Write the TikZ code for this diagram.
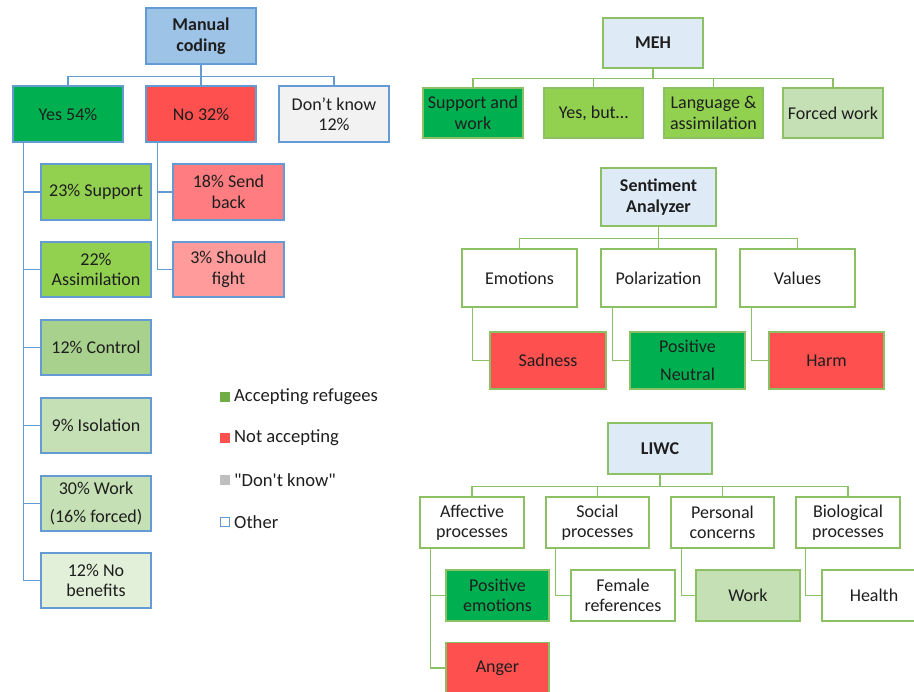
\documentclass[tikz,border=0pt]{standalone}
\usepackage{fontspec}
\setmainfont{Carlito}[Ligatures=TeXOff]
\definecolor{lblue}{RGB}{100,155,212}
\definecolor{lgreen}{RGB}{140,192,100}
\definecolor{rootblue}{RGB}{157,195,230}
\definecolor{paleblue}{RGB}{222,235,247}
\definecolor{dgreen}{RGB}{0,176,80}
\definecolor{mgreen}{RGB}{146,208,80}
\definecolor{cgreen}{RGB}{169,209,142}
\definecolor{sgreen}{RGB}{197,224,180}
\definecolor{vgreen}{RGB}{226,240,217}
\definecolor{red1}{RGB}{255,80,80}
\definecolor{red2}{RGB}{255,124,128}
\definecolor{red3}{RGB}{255,155,155}
\definecolor{lgray}{RGB}{242,242,242}
\definecolor{txt}{RGB}{30,30,30}
\definecolor{leggreen}{RGB}{112,173,71}
\definecolor{leggray}{RGB}{191,191,191}
\tikzset{
  bx/.style={draw, line width=1.6pt, inner sep=0pt, align=center, text=txt,
    font=\fontsize{18}{20.5}\selectfont},
  lb/.style={bx, draw=lblue},
  rb/.style={bx, draw=lgreen},
  lcon/.style={draw=lblue, line width=1.4pt},
  rcon/.style={draw=lgreen, line width=1.4pt},
  legsq/.style={minimum size=10pt, inner sep=0pt},
  legtx/.style={anchor=west, inner sep=0pt, text=txt, font=\fontsize{18.6}{21}\selectfont}
}
\begin{document}
\begin{tikzpicture}[x=1pt,y=-1pt]
\useasboundingbox (0,0) rectangle (914,692);
\clip (0,0) rectangle (914,692);
% ---------- Manual coding tree ----------
\node[lb, fill=rootblue, minimum width=110pt, minimum height=56pt] (man) at (201,36) {\textbf{Manual}\\\textbf{coding}};
\node[lb, fill=dgreen, minimum width=110pt, minimum height=56pt] (yes) at (68,114) {Yes 54\%};
\node[lb, fill=red1, minimum width=110pt, minimum height=56pt] (no) at (201,114) {No 32\%};
\node[lb, fill=lgray, minimum width=110pt, minimum height=56pt] (dk) at (334,114) {Don’t know\\12\%};
\node[lb, fill=mgreen, minimum width=110pt, minimum height=56pt] (sup) at (96,192) {23\% Support};
\node[lb, fill=mgreen, minimum width=110pt, minimum height=55pt] (ass) at (96,269.5) {22\%\\Assimilation};
\node[lb, fill=cgreen, minimum width=110pt, minimum height=55pt] (ctl) at (96,347.5) {12\% Control};
\node[lb, fill=sgreen, minimum width=110pt, minimum height=55pt] (iso) at (96,425.5) {9\% Isolation};
\node[lb, fill=sgreen, minimum width=110pt, minimum height=55pt] (wrk) at (96,503.5) {30\% Work\\[8pt](16\% forced)};
\node[lb, fill=vgreen, minimum width=110pt, minimum height=55pt] (nob) at (96,580.5) {12\% No\\benefits};
\node[lb, fill=red2, minimum width=111pt, minimum height=56pt] (snd) at (228.5,192) {18\% Send\\back};
\node[lb, fill=red3, minimum width=111pt, minimum height=55pt] (fgt) at (228.5,269.5) {3\% Should\\fight};
\draw[lcon] (man.south) -- ++(0,12) coordinate (mbar);
\draw[lcon] (mbar) -| (yes.north);
\draw[lcon] (mbar) -| (no.north);
\draw[lcon] (mbar) -| (dk.north);
\foreach \c in {sup,ass,ctl,iso,wrk,nob}
  \draw[lcon] ([xshift=11pt]yes.south west) |- (\c.west);
\foreach \c in {snd,fgt}
  \draw[lcon] ([xshift=12pt]no.south west) |- (\c.west);
% ---------- Legend ----------
\node[legsq, fill=leggreen] (l1) at (225,397) {};
\node[legsq, fill=red1] (l2) at (225,438) {};
\node[legsq, fill=leggray] (l3) at (225,480) {};
\node[legsq, draw=lblue, line width=1.2pt, fill=white, minimum size=9pt] (l4) at (225,522) {};
\node[legtx] (t1) at (234,397) {Accepting refugees};
\node[legtx] (t2) at (234,438) {Not accepting};
\node[legtx] (t3) at (234,480) {"Don't know"};
\node[legtx] (t4) at (234,522) {Other};
% ---------- MEH ----------
\node[rb, fill=paleblue, minimum width=100pt, minimum height=50pt] (meh) at (653,43) {\textbf{MEH}};
\node[rb, fill=dgreen, minimum width=100pt, minimum height=50pt] (m1) at (473,113) {Support and\\work};
\node[rb, fill=mgreen, minimum width=99pt, minimum height=50pt] (m2) at (593.5,113) {Yes, but…};
\node[rb, fill=mgreen, minimum width=99pt, minimum height=50pt] (m3) at (713.5,113) {Language \&\\assimilation};
\node[rb, fill=sgreen, minimum width=100pt, minimum height=50pt] (m4) at (833,113) {Forced work};
\draw[rcon] (meh.south) -- ++(0,10) coordinate (hbar);
\foreach \c in {m1,m2,m3,m4}
  \draw[rcon] (hbar) -| (\c.north);
% ---------- Sentiment Analyzer ----------
\node[rb, fill=paleblue, minimum width=115pt, minimum height=58pt] (sa) at (658.5,197) {\textbf{Sentiment}\\\textbf{Analyzer}};
\node[rb, fill=white, minimum width=115pt, minimum height=58pt] (emo) at (519.5,278) {Emotions};
\node[rb, fill=white, minimum width=115pt, minimum height=58pt] (pol) at (658.5,278) {Polarization};
\node[rb, fill=white, minimum width=115pt, minimum height=58pt] (val) at (797.5,278) {Values};
\node[rb, fill=red1, minimum width=116pt, minimum height=57pt] (sad) at (548,360.5) {Sadness};
\node[rb, fill=dgreen, minimum width=115pt, minimum height=57pt] (pos) at (687.5,360.5) {Positive\\[8pt]Neutral};
\node[rb, fill=red1, minimum width=115pt, minimum height=57pt] (hrm) at (826.5,360.5) {Harm};
\draw[rcon] (sa.south) -- ++(0,12) coordinate (sbar);
\foreach \c in {emo,pol,val}
  \draw[rcon] (sbar) -| (\c.north);
\draw[rcon] ([xshift=11pt]emo.south west) |- (sad.west);
\draw[rcon] ([xshift=12pt]pol.south west) |- (pos.west);
\draw[rcon] ([xshift=12pt]val.south west) |- (hrm.west);
% ---------- LIWC ----------
\node[rb, fill=paleblue, minimum width=104pt, minimum height=51pt] (liwc) at (660,448.5) {\textbf{LIWC}};
\node[rb, fill=white, minimum width=104pt, minimum height=51pt] (aff) at (472,522.5) {Affective\\processes};
\node[rb, fill=white, minimum width=103pt, minimum height=51pt] (soc) at (597.5,522.5) {Social\\processes};
\node[rb, fill=white, minimum width=103pt, minimum height=51pt] (per) at (722.5,522.5) {Personal\\concerns};
\node[rb, fill=white, minimum width=104pt, minimum height=51pt] (bio) at (848,522.5) {Biological\\processes};
\node[rb, fill=dgreen, minimum width=103pt, minimum height=51pt] (pe) at (497.5,595.5) {Positive\\emotions};
\node[rb, fill=white, minimum width=104pt, minimum height=51pt] (fem) at (623,595.5) {Female\\references};
\node[rb, fill=sgreen, minimum width=104pt, minimum height=51pt] (wk) at (748,595.5) {Work};
\node[rb, fill=white, minimum width=104pt, minimum height=51pt] (hl) at (874,595.5) {Health};
\node[rb, fill=red1, minimum width=103pt, minimum height=51pt] (ang) at (497.5,668) {Anger};
\draw[rcon] (liwc.south) -- ++(0,12) coordinate (lbar);
\foreach \c in {aff,soc,per,bio}
  \draw[rcon] (lbar) -| (\c.north);
\draw[rcon] ([xshift=11pt]aff.south west) |- (pe.west);
\draw[rcon] ([xshift=11pt]aff.south west) |- (ang.west);
\draw[rcon] ([xshift=10pt]soc.south west) |- (fem.west);
\draw[rcon] ([xshift=11pt]per.south west) |- (wk.west);
\draw[rcon] ([xshift=10pt]bio.south west) |- (hl.west);
\end{tikzpicture}
\end{document}
